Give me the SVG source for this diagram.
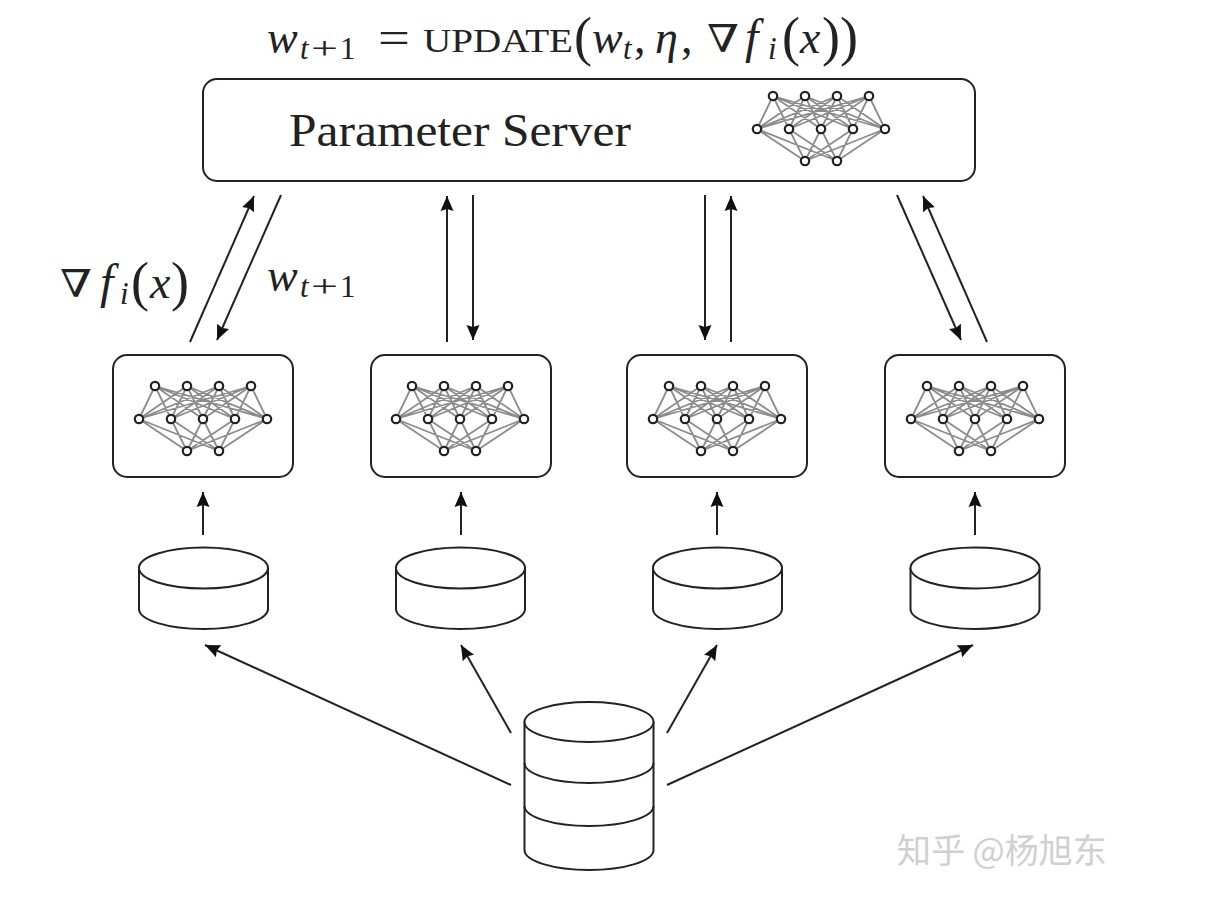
<svg xmlns="http://www.w3.org/2000/svg" xmlns:xlink="http://www.w3.org/1999/xlink" width="1220" height="916" viewBox="0 0 1220 916">
<style>
.box{fill:#fff;stroke:#222;stroke-width:2}
.cyl{fill:#fff;stroke:#222;stroke-width:2}
.conn{fill:none;stroke:#222;stroke-width:2;marker-end:url(#arr)}
.edge{fill:none;stroke:#8c8c8c;stroke-width:1.8}
.nd{fill:#fff;stroke:#222;stroke-width:2.200}
.m{font-family:"Liberation Serif","DejaVu Serif",serif;fill:#222}
.i{font-style:italic}
.wm{font-family:"Noto Sans CJK SC","Noto Sans",sans-serif;fill:#d0d0d0;font-size:34px}
</style>
<defs>
<marker id="arr" markerUnits="userSpaceOnUse" markerWidth="18" markerHeight="16" refX="15" refY="7" orient="auto">
<path d="M0 0.500L15 7L0 13.500L2 7Z" fill="#111"/>
</marker>
<g id="net">
<path class="edge" d="M-48-33L-64 0M-48-33L-32 0M-48-33L0 0M-48-33L32 0M-48-33L64 0M-16-33L-64 0M-16-33L-32 0M-16-33L0 0M-16-33L32 0M-16-33L64 0M16-33L-64 0M16-33L-32 0M16-33L0 0M16-33L32 0M16-33L64 0M48-33L-64 0M48-33L-32 0M48-33L0 0M48-33L32 0M48-33L64 0M-64 0L-16 32M-32 0L-16 32M0 0L-16 32M32 0L-16 32M64 0L-16 32M-64 0L16 32M-32 0L16 32M0 0L16 32M32 0L16 32M64 0L16 32"/>
<circle class="nd" cx="-48" cy="-33" r="4.200"/><circle class="nd" cx="-16" cy="-33" r="4.200"/><circle class="nd" cx="16" cy="-33" r="4.200"/><circle class="nd" cx="48" cy="-33" r="4.200"/>
<circle class="nd" cx="-64" cy="0" r="4.200"/><circle class="nd" cx="-32" cy="0" r="4.200"/><circle class="nd" cx="0" cy="0" r="4.200"/><circle class="nd" cx="32" cy="0" r="4.200"/><circle class="nd" cx="64" cy="0" r="4.200"/>
<circle class="nd" cx="-16" cy="32" r="4.200"/><circle class="nd" cx="16" cy="32" r="4.200"/>
</g>
<g id="cylS">
<path class="cyl" d="M-64.500 0V41A64.500 20 0 0 0 64.500 41V0"/>
<ellipse class="cyl" cx="0" cy="0" rx="64.500" ry="20.500"/>
</g>
</defs>
<rect width="1220" height="916" fill="#fff"/>

<g id="formula">
<text class="m i" x="267" y="53" font-size="46">w</text>
<text class="m i" x="300" y="59" font-size="31">t</text>
<text class="m" x="311" y="59" font-size="31" textLength="27" lengthAdjust="spacingAndGlyphs">+</text>
<text class="m" x="340" y="59" font-size="31">1</text>
<text class="m" x="378" y="53" font-size="46" textLength="32" lengthAdjust="spacingAndGlyphs">=</text>
<text class="m" x="423" y="52" font-size="33" textLength="150" lengthAdjust="spacingAndGlyphs">UPDATE</text>
<text class="m" x="574" y="55" font-size="54">(</text>
<text class="m i" x="592" y="53" font-size="46">w</text>
<text class="m i" x="623" y="59" font-size="31">t</text>
<text class="m" x="634" y="53" font-size="46">,</text>
<text class="m i" x="655" y="53" font-size="46">η</text>
<text class="m" x="681" y="53" font-size="46">,</text>
<text class="m" x="707" y="52" font-size="38" textLength="32" lengthAdjust="spacingAndGlyphs">∇</text>
<text class="m i" x="745" y="53" font-size="48">f</text>
<text class="m i" x="768" y="59" font-size="31">i</text>
<text class="m" x="782" y="55" font-size="54">(</text>
<text class="m i" x="800" y="53" font-size="46">x</text>
<text class="m" x="822" y="55" font-size="54">))</text>
</g>

<g id="server">
<rect class="box" x="203" y="79" width="772" height="102" rx="14"/>
<text class="m" x="289" y="146" font-size="46" textLength="342" lengthAdjust="spacingAndGlyphs">Parameter Server</text>
<use href="#net" xlink:href="#net" x="821" y="129"/>
</g>

<g id="connectors">
<path class="conn" d="M190 342L254 196"/>
<path class="conn" d="M281 195L217 340"/>
<path class="conn" d="M447 342V196"/>
<path class="conn" d="M473 195V340"/>
<path class="conn" d="M705 195V340"/>
<path class="conn" d="M731 342V196"/>
<path class="conn" d="M897 195L961 340"/>
<path class="conn" d="M987 342L923 196"/>
<path class="conn" d="M203 535V492"/>
<path class="conn" d="M461 535V492"/>
<path class="conn" d="M717 535V492"/>
<path class="conn" d="M975 535V492"/>
<path class="conn" d="M511 785L205 645"/>
<path class="conn" d="M511 733L461 645"/>
<path class="conn" d="M667 733L717 645"/>
<path class="conn" d="M667 785L973 645"/>
</g>

<g id="label-grad">
<text class="m" x="60" y="297" font-size="38" textLength="32" lengthAdjust="spacingAndGlyphs">∇</text>
<text class="m i" x="100" y="298" font-size="48">f</text>
<text class="m i" x="120" y="304" font-size="31">i</text>
<text class="m" x="131" y="300" font-size="54">(</text>
<text class="m i" x="150" y="298" font-size="46">x</text>
<text class="m" x="171" y="300" font-size="54">)</text>
</g>
<g id="label-w">
<text class="m i" x="267" y="291" font-size="46">w</text>
<text class="m i" x="300" y="297" font-size="31">t</text>
<text class="m" x="311" y="297" font-size="31" textLength="27" lengthAdjust="spacingAndGlyphs">+</text>
<text class="m" x="340" y="297" font-size="31">1</text>
</g>

<g id="worker1"><rect class="box" x="113" y="355" width="180" height="122" rx="14"/><use href="#net" xlink:href="#net" x="203" y="419"/></g>
<g id="worker2"><rect class="box" x="371" y="355" width="180" height="122" rx="14"/><use href="#net" xlink:href="#net" x="460" y="419"/></g>
<g id="worker3"><rect class="box" x="627" y="355" width="180" height="122" rx="14"/><use href="#net" xlink:href="#net" x="717" y="419"/></g>
<g id="worker4"><rect class="box" x="885" y="355" width="180" height="122" rx="14"/><use href="#net" xlink:href="#net" x="975" y="419"/></g>

<g id="shard1"><use href="#cylS" xlink:href="#cylS" x="203.500" y="568"/></g>
<g id="shard2"><use href="#cylS" xlink:href="#cylS" x="460.500" y="568"/></g>
<g id="shard3"><use href="#cylS" xlink:href="#cylS" x="717.500" y="568"/></g>
<g id="shard4"><use href="#cylS" xlink:href="#cylS" x="975" y="568"/></g>

<g id="dataset">
<path class="cyl" d="M524.500 722V850A64.500 20 0 0 0 653.500 850V722"/>
<ellipse class="cyl" cx="589" cy="722" rx="64.500" ry="20"/>
<path class="cyl" style="fill:none" d="M524.500 763A64.500 20 0 0 0 653.500 763"/>
<path class="cyl" style="fill:none" d="M524.500 806A64.500 20 0 0 0 653.500 806"/>
</g>

<text class="wm" x="897" y="863">知乎 @杨旭东</text>
</svg>
